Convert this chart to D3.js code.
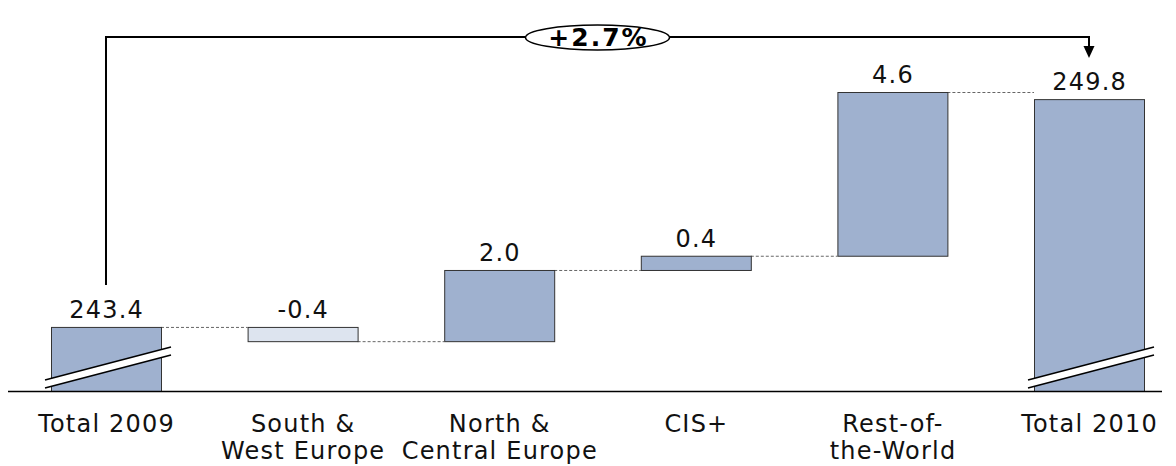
<!DOCTYPE html>
<html>
<head>
<meta charset="utf-8">
<script src="https://cdn.jsdelivr.net/npm/d3@7"></script>
<style>
  html, body { margin: 0; padding: 0; background: #fff; }
  svg { display: block; font-family: Verdana, "DejaVu Sans", sans-serif; }
</style>
</head>
<body>
<svg id="chart" width="1176" height="466"></svg>
<script>
// Waterfall: total 2009 -> regional changes -> total 2010
const categories = ["Total 2009", "South & West Europe", "North & Central Europe", "CIS+", "Rest-of-the-World", "Total 2010"];
const categoryLines = [["Total 2009"], ["South &", "West Europe"], ["North &", "Central Europe"], ["CIS+"], ["Rest-of-", "the-World"], ["Total 2010"]];
const values = [243.4, -0.4, 2.0, 0.4, 4.6, 249.8];
const kinds = ["total", "delta", "delta", "delta", "delta", "total"];
const valueLabels = ["243.4", "-0.4", "2.0", "0.4", "4.6", "249.8"];
const changeLabel = "+2.7%";
const axisBreak = 241.6;   // value where the broken axis starts
const axisTop = 250.0;

const svg = d3.select("#chart");
const baseY = 391;
const textSpacing = 1.2;

const x = d3.scaleBand()
  .domain(categories)
  .range([51, 1144])
  .paddingInner(0.4405)
  .paddingOuter(0);

const y = d3.scaleLinear()
  .domain([axisBreak, axisTop])
  .range([baseY, 92]);

// build bar extents
let running = 0;
const bars = categories.map((c, i) => {
  let lo, hi;
  if (kinds[i] === "total") {
    lo = axisBreak; hi = values[i]; running = values[i];
  } else {
    const start = running, end = running + values[i];
    lo = Math.min(start, end); hi = Math.max(start, end);
    running = end;
  }
  return { cat: c, i, lo, hi, end: running, value: values[i], kind: kinds[i] };
});

const fillFor = d => (d.kind === "delta" && d.value < 0) ? "#dde4ef" : "#9fb1cf";

// dashed connectors between consecutive bars
const conn = svg.append("g");
for (let i = 0; i < bars.length - 1; i++) {
  const lvl = bars[i].end;
  conn.append("line")
    .attr("x1", x(bars[i].cat) + x.bandwidth())
    .attr("x2", x(bars[i + 1].cat))
    .attr("y1", y(lvl) + 0.5).attr("y2", y(lvl) + 0.5)
    .attr("stroke", "#666").attr("stroke-width", 1)
    .attr("stroke-dasharray", "3,2");
}

// bars
svg.append("g").selectAll("rect")
  .data(bars)
  .join("rect")
  .attr("x", d => x(d.cat) + 0.5)
  .attr("y", d => y(d.hi) + 0.5)
  .attr("width", x.bandwidth())
  .attr("height", d => y(d.lo) - y(d.hi))
  .attr("fill", fillFor)
  .attr("stroke", "#333")
  .attr("stroke-width", 1);

// axis baseline
svg.append("line")
  .attr("x1", 8).attr("x2", 1162)
  .attr("y1", baseY + 0.5).attr("y2", baseY + 0.5)
  .attr("stroke", "#000").attr("stroke-width", 1.5);

// axis-break marks on the total bars
const brk = svg.append("g");
bars.filter(d => d.kind === "total").forEach(d => {
  const x0 = x(d.cat) - 6, x1 = x(d.cat) + x.bandwidth() + 10;
  const yl = baseY - 11, yr = baseY - 44, gap = 8;
  brk.append("path")
    .attr("d", `M${x0},${yl}L${x1},${yr}L${x1},${yr + gap}L${x0},${yl + gap}Z`)
    .attr("fill", "#fff");
  [0, gap].forEach(o => brk.append("line")
    .attr("x1", x0).attr("y1", yl + o).attr("x2", x1).attr("y2", yr + o)
    .attr("stroke", "#000").attr("stroke-width", 1.5));
});

// value labels
svg.append("g").selectAll("text")
  .data(bars)
  .join("text")
  .attr("x", d => x(d.cat) + x.bandwidth() / 2 + textSpacing / 2)
  .attr("y", d => y(d.hi) - 9)
  .attr("text-anchor", "middle")
  .attr("font-size", 24)
  .attr("letter-spacing", textSpacing)
  .attr("fill", "#111")
  .text((d, i) => valueLabels[i]);

// category labels
const cl = svg.append("g");
categoryLines.forEach((lines, i) => {
  const cxl = x(categories[i]) + x.bandwidth() / 2 + textSpacing / 2;
  const t = cl.append("text")
    .attr("x", cxl)
    .attr("y", 432)
    .attr("text-anchor", "middle")
    .attr("font-size", 24)
    .attr("letter-spacing", textSpacing)
    .attr("fill", "#111");
  lines.forEach((ln, k) => t.append("tspan")
    .attr("x", cxl)
    .attr("dy", k === 0 ? 0 : 27)
    .text(ln));
});

// growth bracket from first total to last total
const first = bars[0], last = bars[bars.length - 1];
const xa = x(first.cat) + x.bandwidth() / 2;
const xb = x(last.cat) + x.bandwidth() / 2;
const yTop = 37;
const yA = y(first.hi) - 42;
const yTip = y(last.hi) - 41;
const br = svg.append("g");
br.append("path")
  .attr("d", `M${xa},${yA}L${xa},${yTop}L${xb},${yTop}L${xb},${yTip - 11}`)
  .attr("fill", "none").attr("stroke", "#000").attr("stroke-width", 2);
br.append("path")
  .attr("d", `M${xb - 5.5},${yTip - 12}L${xb + 5.5},${yTip - 12}L${xb},${yTip}Z`)
  .attr("fill", "#000");
const cx = (xa + xb) / 2;
br.append("ellipse")
  .attr("cx", cx).attr("cy", yTop + 0.5)
  .attr("rx", 72).attr("ry", 12.5)
  .attr("fill", "#fff").attr("stroke", "#000").attr("stroke-width", 1.5);
br.append("text")
  .attr("x", cx + 1).attr("y", yTop + 9)
  .attr("text-anchor", "middle")
  .attr("font-size", 25).attr("font-weight", "bold")
  .attr("letter-spacing", 2)
  .attr("fill", "#000")
  .text(changeLabel);
</script>
</body>
</html>
